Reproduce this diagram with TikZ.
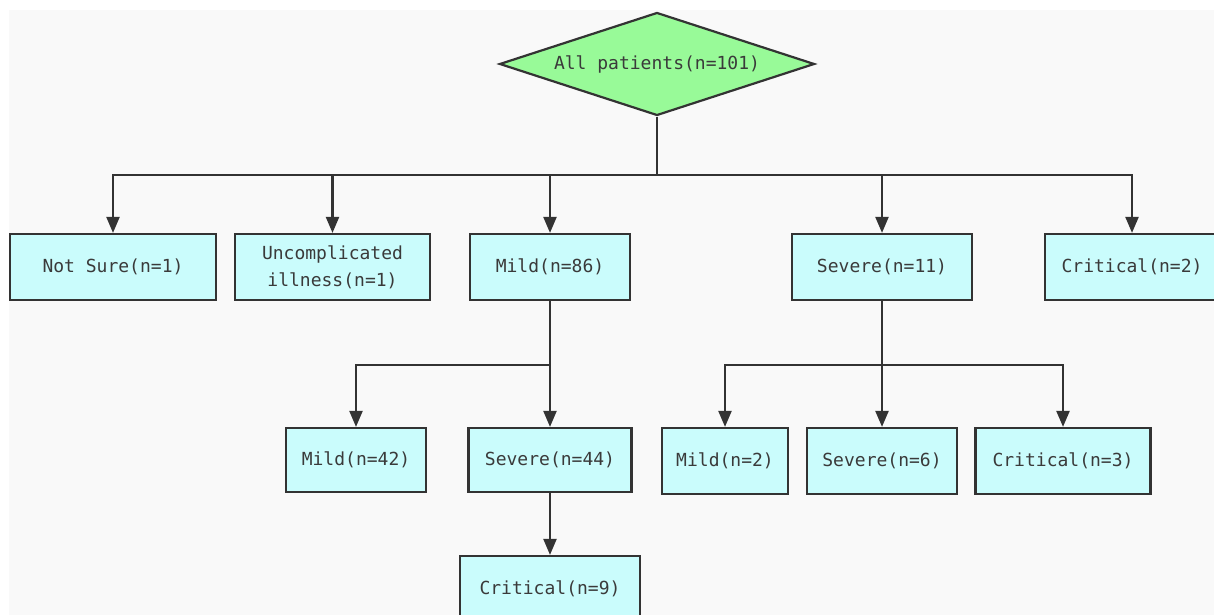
\documentclass[tikz,border=0pt]{standalone}
\usepackage{fontspec}
\setmonofont{DejaVu Sans Mono}
\usetikzlibrary{shapes.geometric,arrows.meta}
\definecolor{boxfill}{HTML}{CAFCFC}
\definecolor{rootfill}{HTML}{98FA98}
\definecolor{linegray}{HTML}{333333}
\definecolor{textgray}{HTML}{3A3A3A}
\definecolor{panelgray}{HTML}{F9F9F9}
\tikzset{
  box/.style={rectangle,draw=linegray,line width=2.2pt,fill=boxfill,
    minimum height=66pt,inner sep=0pt,align=center},
  arr/.style={draw=linegray,line width=2.2pt,
    -{Triangle[length=16pt,width=13pt]}}
}
\begin{document}
\begin{tikzpicture}[x=1pt,y=-1pt,
    every node/.style={font=\ttfamily\fontsize{18}{27}\selectfont,text=textgray}]
      \useasboundingbox (0,0) rectangle (1214,615);
      \fill[white] (0,0) rectangle (1214,615);
      \fill[panelgray] (9,10) rectangle (1214,615);
      \node[diamond,draw=linegray,line width=2.2pt,fill=rootfill,aspect=3,
        minimum width=315pt,minimum height=103pt,inner sep=0pt] (all) at (657,64) {All patients(n=101)};
      \begin{scope}[every node/.append style={box}]
        \node[minimum width=206pt] (notsure) at (113,267) {Not Sure(n=1)};
        \node[minimum width=195pt] (uncomp) at (332.5,267) {Uncomplicated\\ illness(n=1)};
        \node[minimum width=160pt] (mild) at (550,267) {Mild(n=86)};
        \node[minimum width=180pt] (severe) at (882,267) {Severe(n=11)};
        \node[minimum width=174pt] (critical) at (1132,267) {Critical(n=2)};
        \node[minimum width=140pt,minimum height=64pt] (mildmild) at (356,460) {Mild(n=42)};
        \node[minimum width=163pt,minimum height=64pt] (mildsevere) at (550,460) {Severe(n=44)};
        \node[minimum width=180pt] (mildcrit) at (550,589) {Critical(n=9)};
        \node[minimum width=126pt] (sevmild) at (725,461) {Mild(n=2)};
        \node[minimum width=150pt] (sevsevere) at (882,461) {Severe(n=6)};
        \node[minimum width=175pt] (sevcrit) at (1063,461) {Critical(n=3)};
      \end{scope}
      \coordinate (topbus) at (657,175);
      \coordinate (mildbus) at (550,365);
      \coordinate (sevbus) at (882,365);
      \begin{scope}[every path/.style={draw=linegray,line width=2.2pt}]
        \path (all) -- (topbus);
        \path (mild) -- (mildbus);
        \path (severe) -- (sevbus);
      \end{scope}
      \begin{scope}[every path/.style={arr}]
        \path (topbus) -| (notsure);
        \path (topbus) -| (uncomp);
        \path (topbus) -| (mild);
        \path (topbus) -| (severe);
        \path (topbus) -| (critical);
        \path (mildbus) -| (mildmild);
        \path (mildbus) -- (mildsevere);
        \path (mildsevere) -- (mildcrit);
        \path (sevbus) -| (sevmild);
        \path (sevbus) -- (sevsevere);
        \path (sevbus) -| (sevcrit);
      \end{scope}
    \end{tikzpicture}
\end{document}
